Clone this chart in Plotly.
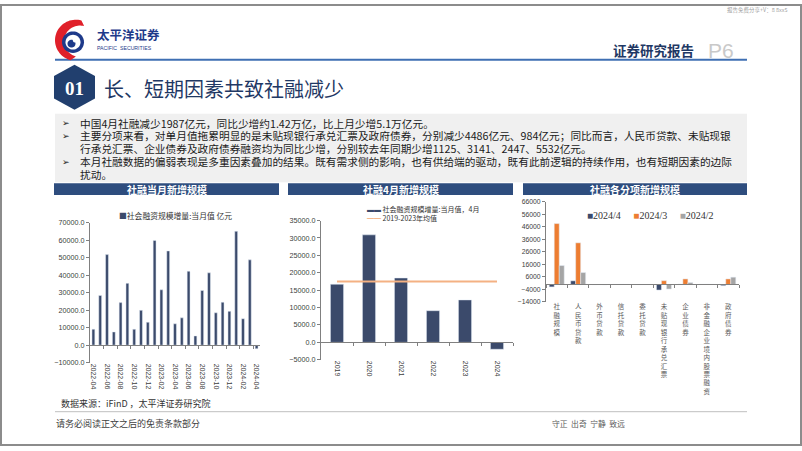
import plotly.graph_objects as go
import numpy as np

W, H = 802, 451
def px(x): return x / W
def py(y): return 1 - y / H

# ---------------- data ----------------
months = ["2022-04","2022-05","2022-06","2022-07","2022-08","2022-09","2022-10","2022-11","2022-12",
          "2023-01","2023-02","2023-03","2023-04","2023-05","2023-06","2023-07","2023-08","2023-09",
          "2023-10","2023-11","2023-12","2024-01","2024-02","2024-03","2024-04"]
tsf_monthly = [9102, 28400, 51700, 7561, 24300, 35300, 9079, 19900, 13100,
               59800, 31600, 53800, 12200, 15600, 42200, 5282, 31200, 41300,
               18500, 24500, 19300, 65000, 15100, 48700, -1987]

years = ["2019", "2020", "2021", "2022", "2023", "2024"]
tsf_april = [16700, 30900, 18500, 9100, 12200, -1987]

items = ["社融规模", "人民币贷款", "外币贷款", "信托贷款", "委托贷款",
         "未贴现银行承兑汇票", "企业债券", "非金融企业境内股票融资", "政府债券"]
apr_2024 = [-1987, 2900, -200, 50, -100, -4486, 300, 150, -984]
mar_2024 = [48700, 33300, -100, 100, -100, 3000, 4400, 200, 4400]
feb_2024 = [15100, 9500, -300, 50, -100, -3700, 1500, 100, 5800]
series_names = ["2024/4", "2024/3", "2024/2"]

# ---------------- styles ----------------
DARK = "#3B4A6B"
ORANGE = "#ED7D31"
GRAY = "#A5A5A5"
AVG = "#F4B183"
AXC = "#808080"
TXT = "#404040"
NAVY = "#1F3864"
BAR_HDR = "#2E4D7E"
CJK = "Noto Sans CJK SC"
SANS = "Liberation Sans"
SERIF = "Liberation Serif"

fig = go.Figure()

# left chart
fig.add_trace(go.Bar(x=months, y=tsf_monthly, marker_color=DARK, width=0.42,
                     xaxis="x", yaxis="y", showlegend=False, name="社会融资规模增量:当月值"))
# middle chart
fig.add_trace(go.Bar(x=years, y=tsf_april, marker_color=DARK, width=0.41,
                     xaxis="x2", yaxis="y2", showlegend=False, name="社会融资规模增量:当月值，4月"))
avg = float(np.mean(tsf_april[:5]))
fig.add_trace(go.Scatter(x=years, y=[avg] * len(years), mode="lines",
                         line=dict(color=AVG, width=2), xaxis="x2", yaxis="y2",
                         showlegend=False, name="2019-2023年均值"))
# right chart
for name, vals, col in zip(series_names, [apr_2024, mar_2024, feb_2024], [DARK, ORANGE, GRAY]):
    fig.add_trace(go.Bar(x=items, y=vals, name=name, marker_color=col,
                         xaxis="x3", yaxis="y3", showlegend=False))

# empty traces so overlay (zero-line) axes get drawn
for xa, ya in [("x4", "y"), ("x5", "y2"), ("x6", "y3")]:
    fig.add_trace(go.Scatter(x=[], y=[], xaxis=xa, yaxis=ya, showlegend=False, hoverinfo="skip"))

# ---------------- axes ----------------
L_dom_x = [px(90), px(260)];  L_dom_y = [py(366), py(223)]; L_rng = [-10000, 70000]
M_dom_x = [px(321), px(513)]; M_dom_y = [py(363), py(221)]; M_rng = [-5000, 35000]
R_dom_x = [px(546), px(739)]; R_dom_y = [py(304), py(202)]; R_rng = [-14000, 66000]

def zero_pos(dom, rng):
    return dom[0] + (0 - rng[0]) / (rng[1] - rng[0]) * (dom[1] - dom[0])

ytick_font = dict(family=SANS, size=7.2, color=TXT)
common_y = dict(showgrid=False, zeroline=False, showline=True, linecolor=AXC, linewidth=1,
                ticks="outside", ticklen=3, tickcolor=AXC, tickfont=ytick_font)

fig.update_layout(
    xaxis=dict(domain=L_dom_x, anchor="y", type="category", showgrid=False, zeroline=False,
               showline=False, ticks="", tickangle=90, tickvals=months[::2],
               tickfont=dict(family=SANS, size=7, color=TXT), range=[-0.5, len(months) - 0.5]),
    yaxis=dict(domain=L_dom_y, anchor="x", range=L_rng, dtick=10000, tickformat=".1f", **common_y),
    xaxis2=dict(domain=M_dom_x, anchor="y2", type="category", showgrid=False, zeroline=False,
                showline=False, ticks="", tickangle=90,
                tickfont=dict(family=SANS, size=7, color=TXT), range=[-0.5, len(years) - 0.5]),
    yaxis2=dict(domain=M_dom_y, anchor="x2", range=M_rng, dtick=5000, tickformat=".1f", **common_y),
    xaxis3=dict(domain=R_dom_x, anchor="y3", type="category", showgrid=False, zeroline=False,
                showline=False, ticks="", tickangle=0, tickvals=items,
                ticktext=["<br>".join(list(s)) for s in items],
                tickfont=dict(family=CJK, size=6.5, color="#595959"), range=[-0.5, len(items) - 0.5]),
    yaxis3=dict(domain=R_dom_y, anchor="x3", range=R_rng, tick0=-14000, dtick=10000,
                tickformat="d", **{**common_y, "tickfont": dict(family=SANS, size=6.8, color=TXT)}),
    xaxis4=dict(overlaying="x", anchor="free", position=zero_pos(L_dom_y, L_rng),
                range=[-0.5, len(months) - 0.5], showline=True, linecolor=AXC, ticks="outside",
                ticklen=3, tickcolor=AXC, tickvals=list(np.arange(1.5, len(months), 2)),
                showticklabels=False, showgrid=False, zeroline=False),
    xaxis5=dict(overlaying="x2", anchor="free", position=zero_pos(M_dom_y, M_rng),
                range=[-0.5, len(years) - 0.5], showline=True, linecolor=AXC, ticks="outside",
                ticklen=3, tickcolor=AXC, tickvals=list(np.arange(0.5, len(years), 1)),
                showticklabels=False, showgrid=False, zeroline=False),
    xaxis6=dict(overlaying="x3", anchor="free", position=zero_pos(R_dom_y, R_rng),
                range=[-0.5, len(items) - 0.5], showline=True, linecolor=AXC, ticks="outside",
                ticklen=3, tickcolor=AXC, tickvals=list(np.arange(-0.5, len(items), 1)),
                showticklabels=False, showgrid=False, zeroline=False),
    barmode="group", bargap=0.3, bargroupgap=0,
    width=W, height=H, margin=dict(l=0, r=0, t=0, b=0),
    paper_bgcolor="white", plot_bgcolor="rgba(0,0,0,0)",
    font=dict(family=CJK, color=TXT), showlegend=False,
)

# ---------------- decorations ----------------
shapes = []
def rect(x0, y0, x1, y1, fill, line=None, lw=0):
    shapes.append(dict(type="rect", xref="paper", yref="paper", x0=px(x0), x1=px(x1),
                       y0=py(y1), y1=py(y0), fillcolor=fill,
                       line=dict(color=line or fill, width=lw), layer="below"))
def hline(x0, x1, y, color, w):
    shapes.append(dict(type="line", xref="paper", yref="paper", x0=px(x0), x1=px(x1),
                       y0=py(y), y1=py(y), line=dict(color=color, width=w)))
def poly(pts, fill, line_w=0):
    d = "M " + " L ".join(f"{px(a):.5f},{py(b):.5f}" for a, b in pts) + " Z"
    shapes.append(dict(type="path", xref="paper", yref="paper", path=d, fillcolor=fill,
                       line=dict(color=fill, width=line_w)))

# outer frame
shapes.append(dict(type="rect", xref="paper", yref="paper", x0=px(1), x1=px(801), y0=py(450), y1=py(1),
                   line=dict(color="#8C8C8C", width=2), fillcolor="rgba(0,0,0,0)"))
# header line
hline(55, 747, 57, "#3F6FB3", 2)
# text box
rect(55, 112, 747, 182, "#F0F0F0")
# chart header bars
rect(54, 183, 279, 195, BAR_HDR)
rect(288, 183, 513, 195, BAR_HDR)
rect(523, 183, 747, 195, BAR_HDR)
# footer line
hline(55, 747, 416, "#BFBFBF", 1)

# logo: red crescent
th = np.linspace(np.radians(75), np.radians(255), 40)
outer = [(76 + 21 * np.cos(t), 37 - 21 * np.sin(t)) for t in th]
th2 = th[::-1]
inner = [(80 + 16 * np.cos(t), 38 - 16 * np.sin(t)) for t in th2]
poly(outer + inner, "#E0202A")
# logo: blue disc with white swirl
circ = lambda cx, cy, r, n=36: [(cx + r * np.cos(t), cy + r * np.sin(t)) for t in np.linspace(0, 2 * np.pi, n, endpoint=False)]
poly(circ(73, 39, 11), "#1E3A8A")
poly(circ(73, 39, 7.5), "white")
poly(circ(71.5, 40.5, 4), "#1E3A8A")
poly(circ(75, 37, 2.2), "white")

# hexagon
hx = [(74.5, 62), (95, 73.5), (95, 96.5), (74.5, 108), (54, 96.5), (54, 73.5)]
poly(hx, "#213F6E")

fig.update_layout(shapes=shapes)

# ---------------- texts ----------------
ann = []
def text(x, y, s, size, color=TXT, family=CJK, xanchor="left", bold=False, yanchor="middle", align="left"):
    if bold:
        s = f"<b>{s}</b>"
    ann.append(dict(x=px(x), y=py(y), xref="paper", yref="paper", text=s, showarrow=False,
                    xanchor=xanchor, yanchor=yanchor, align=align,
                    font=dict(size=size, color=color, family=family)))

text(95, 31.5, "太平洋证券", 12.5, "#1E3A8A", bold=True)
text(95, 45, "PACIFIC  SECURITIES", 5.2, "#1E3A8A", family=SANS)
text(611, 47, "证券研究报告", 13.5, NAVY, bold=True)
text(706, 47, "P6", 21, "#C9C9C9", family=SANS)
text(790, 6, "报告免费分享+V：8 8xx5", 5.5, "#A0A0A0", xanchor="right")
text(74.5, 86, "01", 19, "white", family=SERIF, xanchor="center", bold=True)
text(102, 86, "长、短期因素共致社融减少", 20, NAVY)

body_lines = [
    (121.7, True, "中国4月社融减少1987亿元，同比少增约1.42万亿，比上月少增5.1万亿元。"),
    (134.6, True, "主要分项来看，对单月值拖累明显的是未贴现银行承兑汇票及政府债券，分别减少4486亿元、984亿元；同比而言，人民币贷款、未贴现银"),
    (147.7, False, "行承兑汇票、企业债券及政府债券融资均为同比少增，分别较去年同期少增1125、3141、2447、5532亿元。"),
    (160.9, True, "本月社融数据的偏弱表现是多重因素叠加的结果。既有需求侧的影响，也有供给端的驱动，既有此前逻辑的持续作用，也有短期因素的边际"),
    (174.2, False, "扰动。"),
]
for y, has_bullet, s in body_lines:
    if has_bullet:
        text(60, y, "➢", 9, "#222222", family="DejaVu Sans")
    text(78, y, s, 10.7, "#1A1A1A")

text(166.5, 189, "社融当月新增规模", 10, "white", xanchor="center", bold=True)
text(400.5, 189, "社融4月新增规模", 10, "white", xanchor="center", bold=True)
text(635, 189, "社融各分项新增规模", 10, "white", xanchor="center", bold=True)

# legends (as text with coloured markers)
text(117, 216, f"<span style='color:{DARK}'>■</span>社会融资规模增量:当月值 亿元", 7.8, "#333333")
leg2 = (f"<span style='color:{DARK}'>▬▬</span> 社会融资规模增量:当月值，4月<br>"
        f"<span style='color:{AVG}'>━━</span> 2019-2023年均值")
text(365, 213.5, leg2, 7, "#333333")
leg3 = "".join(f"<span style='color:{c}'>■</span>{n}     " for n, c in zip(series_names, [DARK, ORANGE, GRAY]))
text(585, 216, leg3.rstrip(), 10, "#333333", family=SERIF)

text(59, 408, "数据来源：iFinD ，太平洋证券研究院", 9, "#333333")
text(54, 428, "请务必阅读正文之后的免责条款部分", 9, "#404040")
text(550, 428, "守正  出奇  宁静  致远", 7.8, "#595959")

fig.update_layout(annotations=ann)
fig.write_html("out.html")
